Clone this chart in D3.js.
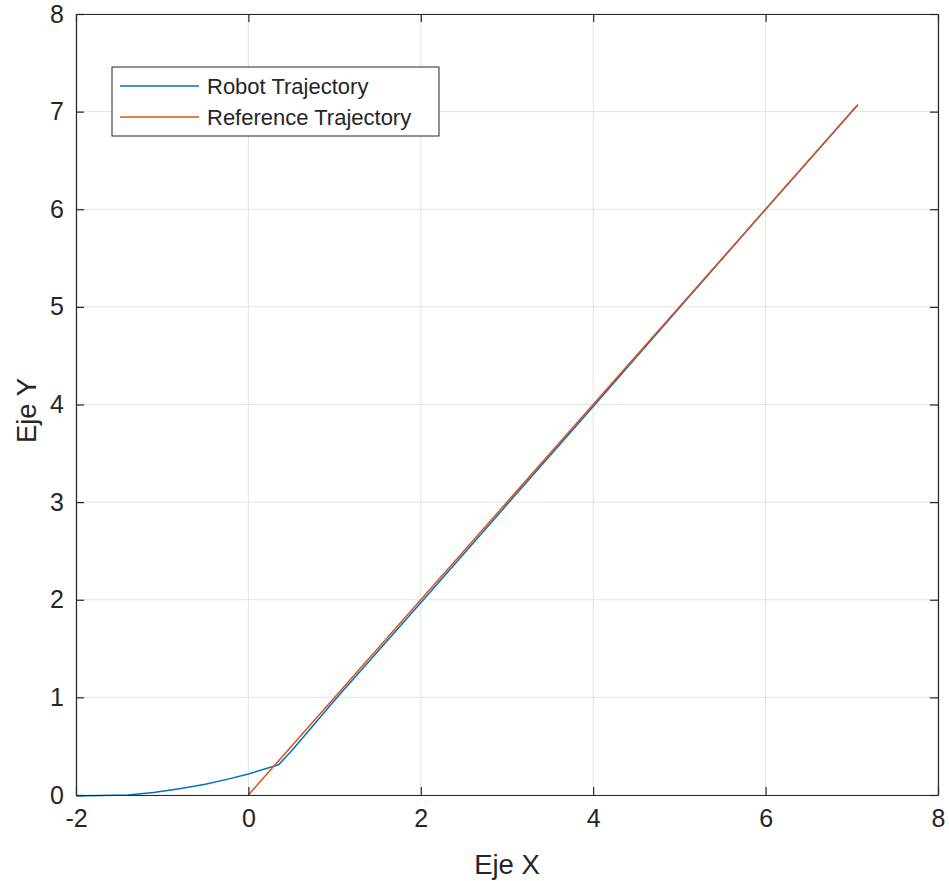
<!DOCTYPE html>
<html lang="en">
<head>
    <meta charset="UTF-8">
    <title>Robot Trajectory</title>
    <script src="https://d3js.org/d3.v7.min.js"></script>
    <style>
        body { margin: 0; background: #fff; }
        text { font-family: "Liberation Sans", Arial, sans-serif; fill: #262626; }
    </style>
</head>
<body>
    <svg id="graph" width="949" height="881"></svg>
    <script>
        // data
        const robotX = [-2, -1.7, -1.4, -1.1, -0.8, -0.5, -0.25, 0, 0.35, 0.5, 1, 2, 3, 4, 5, 6, 7.07];
        const robotY = [-0.01, -0.006, 0.0, 0.025, 0.065, 0.11, 0.16, 0.215, 0.31, 0.45, 0.97, 1.97, 2.975, 3.98, 4.99, 6.0, 7.07];
        const refX = [0, 7.07];
        const refY = [0, 7.07];
        const xTicks = [-2, 0, 2, 4, 6, 8];
        const yTicks = [0, 1, 2, 3, 4, 5, 6, 7, 8];
        const seriesNames = ["Robot Trajectory", "Reference Trajectory"];
        const seriesColors = ["#0072BD", "#D95319"];

        const svg = d3.select("#graph");
        const margin = { top: 14, right: 11, bottom: 86, left: 76 };
        const width = 949 - margin.left - margin.right;
        const height = 881 - margin.top - margin.bottom;

        const x = d3.scaleLinear().domain([-2, 8]).range([0, width]);
        const y = d3.scaleLinear().domain([0, 8]).range([height, 0]);

        const g = svg.append("g").attr("transform", "translate(" + margin.left + "," + margin.top + ")");

        // grid
        g.selectAll(".gx").data(xTicks).join("line")
            .attr("class", "gx")
            .attr("x1", d => x(d)).attr("x2", d => x(d))
            .attr("y1", 0).attr("y2", height)
            .attr("stroke", "#e3e3e3").attr("stroke-width", 1);
        g.selectAll(".gy").data(yTicks).join("line")
            .attr("class", "gy")
            .attr("x1", 0).attr("x2", width)
            .attr("y1", d => y(d)).attr("y2", d => y(d))
            .attr("stroke", "#e3e3e3").attr("stroke-width", 1);

        // lines
        const line = d3.line().x(d => x(d[0])).y(d => y(d[1]));
        const robot = robotX.map((v, i) => [v, robotY[i]]);
        const ref = refX.map((v, i) => [v, refY[i]]);

        g.append("g")
            .selectAll("path")
            .data([robot, ref])
            .join("path")
            .attr("d", line)
            .attr("fill", "none")
            .attr("stroke", (d, i) => seriesColors[i])
            .attr("stroke-width", 1.5);

        // axes, ticks pointing inward, mirrored on top/right
        const axisStyle = sel => {
            sel.select(".domain").attr("stroke", "#262626").attr("stroke-width", 1.2);
            sel.selectAll(".tick line").attr("stroke", "#262626").attr("stroke-width", 1.2);
            sel.selectAll(".tick text")
                .style("font-family", '"Liberation Sans", Arial, sans-serif')
                .style("font-size", "25px")
                .attr("fill", "#262626");
        };
        const fmt = d => String(d);

        g.append("g").attr("transform", "translate(0," + height + ")")
            .call(d3.axisBottom(x).tickValues(xTicks).tickFormat(fmt).tickSize(-8).tickPadding(14).tickSizeOuter(0))
            .call(axisStyle)
            .selectAll(".tick text").attr("dy", "0.71em");
        g.append("g")
            .call(d3.axisTop(x).tickValues(xTicks).tickSize(-8).tickSizeOuter(0).tickFormat(""))
            .call(axisStyle);
        g.append("g")
            .call(d3.axisLeft(y).tickValues(yTicks).tickFormat(fmt).tickSize(-8).tickPadding(12).tickSizeOuter(0))
            .call(axisStyle);
        g.append("g").attr("transform", "translate(" + width + ",0)")
            .call(d3.axisRight(y).tickValues(yTicks).tickSize(-8).tickSizeOuter(0).tickFormat(""))
            .call(axisStyle);

        // axis labels
        svg.append("text")
            .attr("x", margin.left + width / 2)
            .attr("y", 874)
            .attr("text-anchor", "middle")
            .style("font-size", "27.5px")
            .text("Eje X");
        svg.append("text")
            .attr("transform", "translate(36," + (margin.top + height / 2 + 6) + ") rotate(-90)")
            .attr("text-anchor", "middle")
            .style("font-size", "27.5px")
            .text("Eje Y");

        // legend
        const legend = svg.append("g").attr("transform", "translate(112,67)");
        legend.append("rect")
            .attr("width", 327).attr("height", 69)
            .attr("fill", "#fff").attr("stroke", "#262626").attr("stroke-width", 1);
        seriesNames.forEach((name, i) => {
            const ly = 19 + i * 31;
            legend.append("line")
                .attr("x1", 8).attr("x2", 87)
                .attr("y1", ly).attr("y2", ly)
                .attr("stroke", seriesColors[i]).attr("stroke-width", 1.5);
            legend.append("text")
                .attr("x", 95).attr("y", ly)
                .attr("dy", "0.35em")
                .style("font-size", "22px")
                .text(name);
        });
    </script>
</body>
</html>
